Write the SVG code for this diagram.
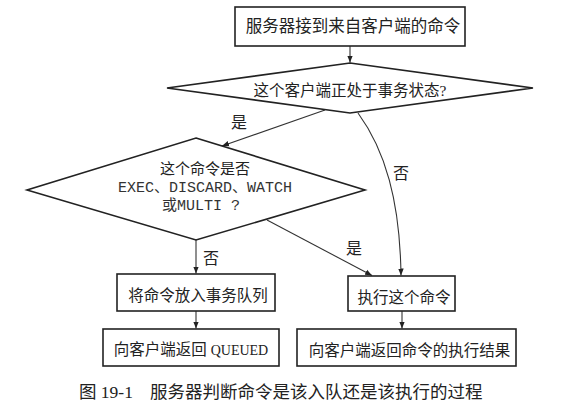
<svg xmlns="http://www.w3.org/2000/svg" width="576" height="417" viewBox="0 0 576 417">
<style>
.node{fill:#fff;stroke:#222;stroke-width:1.6}
.t{font-family:"Liberation Serif","Noto Sans CJK SC",serif;font-size:15.5px;fill:#222;text-anchor:middle}
.m{font-family:"Liberation Mono","Noto Sans CJK SC",monospace;font-size:15px;fill:#333;text-anchor:middle}
.lbl{font-family:"Liberation Serif","Noto Sans CJK SC",serif;font-size:16px;fill:#222;text-anchor:middle}
.c{fill:none;stroke:#333;stroke-width:1.1}
.cap{font-family:"Liberation Serif","Noto Sans CJK SC",serif;font-size:17.5px;fill:#222}
</style>
<defs>
<marker id="ah" viewBox="0 0 10 10" refX="10" refY="5" markerWidth="7" markerHeight="7" markerUnits="userSpaceOnUse" orient="auto">
<path d="M0,1 L10,5 L0,9 Z" fill="#222"/>
</marker>
</defs>
<rect width="576" height="417" fill="#fff"/>
<g id="connectors">
<line class="c" x1="350" y1="46" x2="350" y2="62.5" marker-end="url(#ah)"/>
<line class="c" x1="325" y1="110" x2="222" y2="146" marker-end="url(#ah)"/>
<path class="c" d="M358,113 C385,150 400,200 401,275.5" marker-end="url(#ah)"/>
<line class="c" x1="196" y1="240" x2="196" y2="273.5" marker-end="url(#ah)"/>
<line class="c" x1="267" y1="220" x2="372" y2="275.5" marker-end="url(#ah)"/>
<line class="c" x1="196" y1="311" x2="196" y2="328.5" marker-end="url(#ah)"/>
<line class="c" x1="402" y1="311" x2="402" y2="328.5" marker-end="url(#ah)"/>
<text class="lbl" x="239" y="128">是</text>
<text class="lbl" x="401" y="179">否</text>
<text class="lbl" x="211" y="264">否</text>
<text class="lbl" x="354" y="254">是</text>
</g>
<g id="start">
<rect class="node" x="235" y="7" width="230" height="39"/>
<text class="t" x="353" y="32" style="font-size:16.5px">服务器接到来自客户端的命令</text>
</g>
<g id="decision1">
<polygon class="node" points="350,63 533,88 350,113 167,88"/>
<text class="t" x="350" y="95.5">这个客户端正处于事务状态?</text>
</g>
<g id="decision2">
<polygon class="node" points="196,138 365,190 196,240 27,190"/>
<text class="t" x="205" y="173.5" style="font-size:15px">这个命令是否</text>
<text class="m" x="205" y="192">EXEC、DISCARD、WATCH</text>
<text class="m" x="201" y="210">或MULTI ?</text>
</g>
<g id="enqueue">
<rect class="node" x="117" y="274" width="158" height="37"/>
<text class="t" x="198" y="300.5">将命令放入事务队列</text>
</g>
<g id="reply-queued">
<rect class="node" x="103" y="329" width="176" height="37"/>
<text class="t" x="191" y="354.5">向客户端返回 <tspan font-family="Liberation Serif" font-size="14">QUEUED</tspan></text>
</g>
<g id="execute">
<rect class="node" x="348" y="276" width="107" height="35"/>
<text class="t" x="404" y="302.5">执行这个命令</text>
</g>
<g id="reply-result">
<rect class="node" x="297" y="329" width="219" height="37"/>
<text class="t" x="409.5" y="355.5">向客户端返回命令的执行结果</text>
</g>
<text class="cap" x="79" y="398">图 19-1<tspan x="150">服务器判断命令是该入队还是该执行的过程</tspan></text>
</svg>
